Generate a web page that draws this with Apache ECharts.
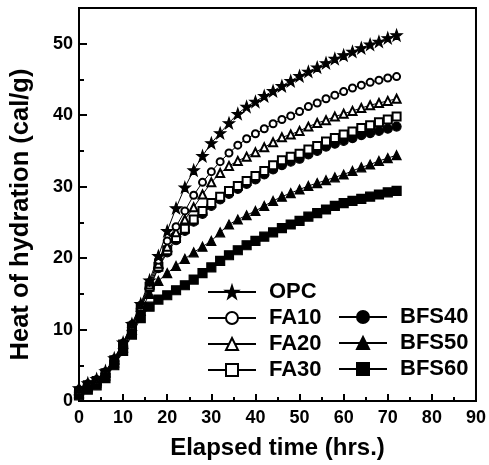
<!DOCTYPE html>
<html>
<head>
<meta charset="utf-8">
<script src="https://cdn.jsdelivr.net/npm/echarts@6/dist/echarts.min.js"></script>
<style>
  html, body { margin: 0; padding: 0; background: #fff; }
  #chart { width: 489px; height: 465px; }
</style>
</head>
<body>
<div id="chart"></div>
<script>
// elapsed time (hrs.)
const hours = [0, 2, 4, 6, 8, 10, 12, 14, 16, 18, 20, 22, 24, 26, 28, 30, 32, 34, 36,
  38, 40, 42, 44, 46, 48, 50, 52, 54, 56, 58, 60, 62, 64, 66, 68, 70, 72];

// heat of hydration (cal/g)
const opc = [1.8, 2.5, 3.1, 4.2, 6.0, 8.2, 10.8, 13.6, 16.9, 20.3, 23.8, 27.0, 29.9, 32.3, 34.3, 36.1, 37.5, 38.9, 40.2,
  41.2, 41.9, 42.7, 43.4, 44.1, 44.8, 45.5, 46.1, 46.7, 47.3, 47.9, 48.4, 48.9, 49.4, 49.9, 50.3, 50.8, 51.2];
const fa10 = [1.6, 2.4, 3.0, 4.1, 5.9, 8.1, 10.7, 13.4, 16.6, 19.7, 22.4, 24.4, 26.6, 28.8, 30.6, 32.1, 33.5, 34.7, 35.8,
  36.7, 37.4, 38.1, 38.8, 39.4, 39.9, 40.5, 41.2, 41.7, 42.3, 42.8, 43.3, 43.8, 44.2, 44.6, 44.9, 45.2, 45.4];
const fa20 = [1.5, 2.3, 2.9, 4.0, 5.8, 8.0, 10.5, 13.2, 16.3, 19.2, 21.6, 23.6, 25.4, 27.1, 28.9, 30.6, 31.9, 32.9, 33.6,
  34.2, 34.8, 35.5, 36.2, 36.9, 37.3, 37.8, 38.4, 38.9, 39.3, 39.8, 40.2, 40.6, 41.0, 41.4, 41.7, 42.0, 42.3];
const fa30 = [1.3, 2.2, 2.8, 3.9, 5.7, 7.9, 10.4, 13.0, 16.0, 18.8, 21.1, 22.8, 24.1, 25.4, 26.6, 27.7, 28.6, 29.4, 30.1,
  30.8, 31.5, 32.2, 33.0, 33.7, 34.2, 34.6, 35.2, 35.7, 36.3, 36.8, 37.3, 37.7, 38.2, 38.6, 39.0, 39.4, 39.8];
const bfs40 = [1.2, 2.1, 2.7, 3.8, 5.6, 7.8, 10.3, 12.9, 15.8, 18.6, 20.8, 22.5, 23.8, 25.1, 26.2, 27.3, 28.2, 29.0, 29.7,
  30.4, 31.0, 31.7, 32.4, 33.0, 33.5, 33.9, 34.5, 35.0, 35.6, 36.0, 36.4, 36.8, 37.2, 37.5, 37.8, 38.1, 38.4];
const bfs50 = [1.1, 2.0, 2.6, 3.6, 5.4, 7.5, 10.0, 12.6, 15.0, 16.8, 17.9, 18.9, 19.9, 20.8, 21.6, 22.4, 23.6, 24.7, 25.4,
  26.0, 26.6, 27.3, 28.0, 28.6, 29.1, 29.6, 30.1, 30.5, 30.9, 31.3, 31.7, 32.2, 32.7, 33.1, 33.6, 34.0, 34.4];
const bfs60 = [0.8, 1.6, 2.2, 3.2, 5.0, 7.0, 9.3, 11.6, 13.2, 14.2, 14.8, 15.5, 16.2, 17.0, 17.9, 18.7, 19.6, 20.4, 21.1,
  21.8, 22.4, 23.0, 23.6, 24.2, 24.7, 25.2, 25.8, 26.3, 26.8, 27.3, 27.7, 28.0, 28.3, 28.6, 28.9, 29.2, 29.4];

const star = "path://M0,-10L2.35,-3.24L9.51,-3.09L3.8,1.24L5.88,8.09L0,4L-5.88,8.09L-3.8,1.24L-9.51,-3.09L-2.35,-3.24Z";
const font = "'Liberation Sans', Arial, sans-serif";

function pairs(ys) {
  return hours.map((h, i) => [h, ys[i]]);
}

function makeSeries(name, ys, symbol, size) {
  return {
    name: name,
    type: "line",
    data: pairs(ys),
    symbol: symbol,
    symbolSize: size,
    showAllSymbol: true,
    lineStyle: { color: "#000", width: 1 },
    itemStyle: { color: "#000", borderColor: "#000", borderWidth: 1.2 },
    emphasis: { disabled: true },
    animation: false,
  };
}

const chart = echarts.init(document.getElementById("chart"));

const legendBase = {
  orient: "vertical",
  padding: 0,
  itemWidth: 48,
  itemHeight: 15,
  itemGap: 4,
  textStyle: {
    fontFamily: font,
    fontWeight: "bold",
    fontSize: 22,
    lineHeight: 21,
    color: "#000",
    padding: [0, 0, 0, 8],
  },
};

const option = {
  backgroundColor: "#fff",
  grid: {
    left: 78,
    right: 9,
    top: 8,
    bottom: 63,
    show: true,
    borderColor: "#000",
    borderWidth: 2,
  },
  legend: [
    Object.assign({}, legendBase, { left: 207, top: 281, data: ["OPC", "FA10", "FA20", "FA30"] }),
    Object.assign({}, legendBase, { left: 338, top: 306, data: ["BFS40", "BFS50", "BFS60"] }),
  ],
  xAxis: {
    type: "value",
    min: 0,
    max: 90,
    interval: 10,
    name: "Elapsed time (hrs.)",
    nameLocation: "middle",
    nameGap: 35,
    nameTextStyle: { fontFamily: font, fontWeight: "bold", fontSize: 24, color: "#000" },
    axisLine: { lineStyle: { color: "#000", width: 2 } },
    axisTick: { inside: true, length: 7, lineStyle: { color: "#000", width: 2 } },
    minorTick: { show: true, splitNumber: 2, length: 4, lineStyle: { color: "#000", width: 2 } },
    axisLabel: { fontFamily: font, fontWeight: "bold", fontSize: 18, color: "#000", margin: 8 },
    splitLine: { show: false },
  },
  yAxis: {
    type: "value",
    min: 0,
    max: 55,
    interval: 10,
    name: "Heat of hydration (cal/g)",
    nameLocation: "middle",
    nameGap: 45,
    nameTextStyle: { fontFamily: font, fontWeight: "bold", fontSize: 25.5, color: "#000", padding: [0, 20, 0, 0] },
    axisLine: { lineStyle: { color: "#000", width: 2 } },
    axisTick: { inside: true, length: 8, lineStyle: { color: "#000", width: 2 } },
    minorTick: { show: true, splitNumber: 2, length: 5, lineStyle: { color: "#000", width: 2 } },
    axisLabel: { fontFamily: font, fontWeight: "bold", fontSize: 18, color: "#000", margin: 6, showMaxLabel: false },
    splitLine: { show: false },
  },
  series: [
    makeSeries("BFS60", bfs60, "rect", 9),
    makeSeries("BFS50", bfs50, "triangle", 9),
    makeSeries("BFS40", bfs40, "circle", 9),
    makeSeries("FA30", fa30, "emptyRect", 8),
    makeSeries("FA20", fa20, "emptyTriangle", 8),
    makeSeries("FA10", fa10, "emptyCircle", 7),
    makeSeries("OPC", opc, star, 11),
  ],
};

chart.setOption(option);
</script>
</body>
</html>
